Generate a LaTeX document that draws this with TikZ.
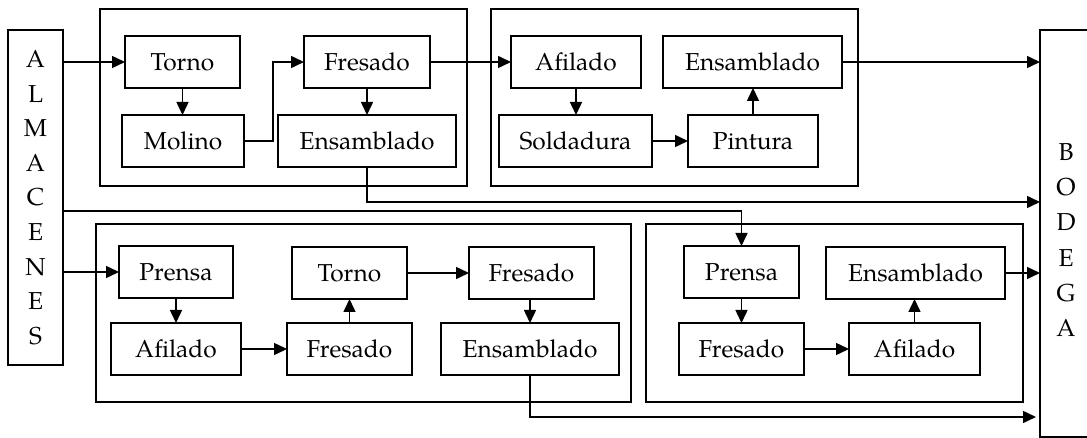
\documentclass[tikz,border=0pt]{standalone}
\usepackage{fontspec}
\setmainfont{TeX Gyre Pagella}
\usetikzlibrary{arrows.meta}
\newcommand\myboxfont{\fontsize{24.5}{29}\selectfont}
\newcommand\myalmfont{\fontsize{24.5}{34.6}\selectfont}
\newcommand\mybodfont{\fontsize{24.5}{35.2}\selectfont}
\tikzset{
  proc/.style={draw, line width=1.5pt, minimum height=52pt, inner sep=0pt, outer sep=0pt, font=\myboxfont},
  grp/.style={draw, line width=1.5pt},
  arr/.style={line width=1.5pt, -{Triangle[length=13pt,width=12pt]}},
}
\begin{document}
\begin{tikzpicture}[x=1pt,y=-1pt]
\useasboundingbox (0,0) rectangle (1087,438);
% group boxes
\draw[grp] (100,9) rectangle (467,186);
\draw[grp] (491,9) rectangle (858,186);
\draw[grp] (96,224) rectangle (631,402);
\draw[grp] (646,224) rectangle (1023,402);
% side boxes
\node[draw, line width=1.5pt, minimum width=55pt, minimum height=335pt, inner sep=0pt, outer sep=0pt, align=center, font=\myalmfont] (ALM) at (35.5,197.5) {A\\L\\M\\A\\C\\E\\N\\E\\S};
\node[draw, line width=1.5pt, minimum width=100pt, minimum height=406.5pt, inner sep=0pt, outer sep=0pt] (BOD) at (1090,233.5) {};
\node[align=center, inner sep=0pt, font=\mybodfont] (bodtxt) at (1066,240) {B\\O\\D\\E\\G\\A};
% row 1
\node[proc, minimum width=115pt] (torno1) at (182.5,62) {Torno};
\node[proc, minimum width=126pt] (fres1) at (367,62) {Fresado};
\node[proc, minimum width=130pt] (afil2) at (576,62) {Afilado};
\node[proc, minimum width=179pt] (ens2) at (752.5,62) {Ensamblado};
% row 2
\node[proc, minimum width=122pt] (mol1) at (183,141) {Molino};
\node[proc, minimum width=178pt] (ens1) at (367,141) {Ensamblado};
\node[proc, minimum width=153pt] (sold2) at (575.5,141) {Soldadura};
\node[proc, minimum width=130pt] (pint2) at (753,141) {Pintura};
% row 3
\node[proc, minimum width=114pt] (prensa3) at (176,272) {Prensa};
\node[proc, minimum width=115pt] (torno3) at (349.5,273) {Torno};
\node[proc, minimum width=125pt] (fres3) at (531.5,273) {Fresado};
\node[proc, minimum width=115pt] (prensa4) at (741.5,272) {Prensa};
\node[proc, minimum width=179pt] (ens4) at (915.5,273) {Ensamblado};
% row 4
\node[proc, minimum width=130pt] (afil3) at (176,349) {Afilado};
\node[proc, minimum width=125pt] (fres3b) at (349.5,349) {Fresado};
\node[proc, minimum width=178pt] (ens3) at (530,349) {Ensamblado};
\node[proc, minimum width=125pt] (fres4) at (741.5,349) {Fresado};
\node[proc, minimum width=131pt] (afil4) at (914.5,349) {Afilado};
% connectors top
\draw[arr] (ALM.east |- torno1.west) -- (torno1.west);
\draw[arr] (torno1.south) -- (torno1.south |- mol1.north);
\draw[arr] (mol1.east) -- ++(29,0) |- (fres1.west);
\draw[arr] (fres1.south) -- (fres1.south |- ens1.north);
\draw[arr] (fres1.east) -- (afil2.west);
\draw[arr] (afil2.south) -- (afil2.south |- sold2.north);
\draw[arr] (sold2.east) -- (pint2.west);
\draw[arr] (pint2.north) -- (pint2.north |- ens2.south);
\draw[arr] (ens2.east) -- (BOD.west |- ens2.east);
\coordinate (e1turn) at (367,202);
\draw[arr] (ens1.south) -- (e1turn) -- (BOD.west |- e1turn);
\coordinate (almturn) at (741.5,211);
\draw[arr] (ALM.east |- almturn) -- (almturn) -- (prensa4.north);
% connectors bottom
\draw[arr] (ALM.east |- prensa3.west) -- (prensa3.west);
\draw[arr] (prensa3.south) -- (afil3.north);
\draw[arr] (afil3.east) -- (fres3b.west);
\draw[arr] (fres3b.north) -- (torno3.south);
\draw[arr] (torno3.east) -- (fres3.west);
\draw[arr] (fres3.south -| ens3.north) -- (ens3.north);
\coordinate (e3turn) at (530,417);
\coordinate (e3end) at (1036,417);
\draw[arr] (ens3.south) -- (e3turn) -- (e3end);
\draw[arr] (prensa4.south) -- (fres4.north);
\draw[arr] (fres4.east) -- (afil4.west);
\draw[arr] (afil4.north) -- (afil4.north |- ens4.south);
\draw[arr] (ens4.east) -- (BOD.west |- ens4.east);
\end{tikzpicture}
\end{document}
